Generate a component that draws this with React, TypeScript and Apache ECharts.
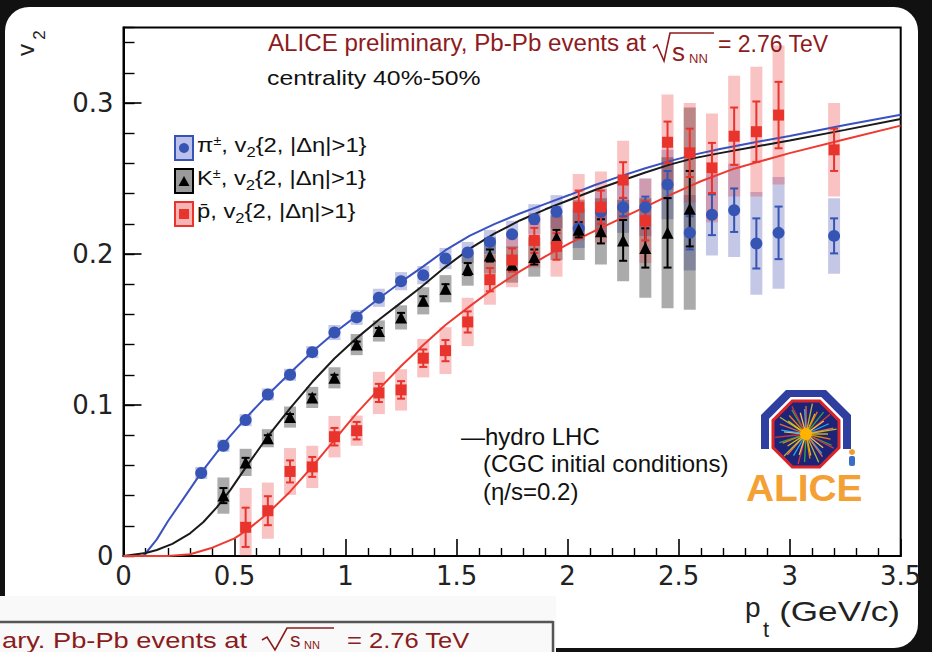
import React, { useEffect, useRef } from 'react';
import * as echarts from 'echarts';

// ---------- data ----------
const ptPi = [0.35, 0.45, 0.55, 0.65, 0.75, 0.85, 0.95, 1.05, 1.15, 1.25, 1.35, 1.45, 1.55, 1.65, 1.75, 1.85, 1.95, 2.05, 2.15, 2.25, 2.35, 2.45, 2.55, 2.65, 2.75, 2.85, 2.95, 3.2];
const v2Pi = [0.055, 0.073, 0.090, 0.107, 0.120, 0.135, 0.148, 0.158, 0.171, 0.182, 0.186, 0.197, 0.201, 0.208, 0.213, 0.223, 0.228, 0.217, 0.228, 0.231, 0.231, 0.246, 0.214, 0.226, 0.229, 0.207, 0.214, 0.212];
const statPi = [0.001, 0.001, 0.001, 0.001, 0.001, 0.001, 0.001, 0.001, 0.001, 0.001, 0.001, 0.002, 0.002, 0.002, 0.002, 0.003, 0.003, 0.004, 0.005, 0.006, 0.007, 0.009, 0.011, 0.0135, 0.0144, 0.0166, 0.0174, 0.0116];
const sysPi = [0.004, 0.004, 0.004, 0.004, 0.004, 0.004, 0.005, 0.005, 0.006, 0.006, 0.006, 0.007, 0.007, 0.008, 0.009, 0.010, 0.011, 0.013, 0.015, 0.017, 0.019, 0.023, 0.025, 0.027, 0.031, 0.034, 0.037, 0.025];

const ptK = [0.45, 0.55, 0.65, 0.75, 0.85, 0.95, 1.05, 1.15, 1.25, 1.35, 1.45, 1.55, 1.65, 1.75, 1.85, 1.95, 2.05, 2.15, 2.25, 2.35, 2.45, 2.55];
const v2K = [0.040, 0.062, 0.078, 0.092, 0.105, 0.118, 0.140, 0.149, 0.158, 0.169, 0.177, 0.190, 0.199, 0.193, 0.198, 0.211, 0.216, 0.215, 0.209, 0.204, 0.214, 0.230];
const statK = [0.005, 0.003, 0.002, 0.002, 0.002, 0.002, 0.002, 0.002, 0.003, 0.003, 0.003, 0.004, 0.004, 0.004, 0.005, 0.005, 0.005, 0.008, 0.0135, 0.013, 0.023, 0.025];
const sysK = [0.012, 0.009, 0.006, 0.007, 0.007, 0.007, 0.007, 0.007, 0.008, 0.009, 0.009, 0.011, 0.012, 0.012, 0.013, 0.015, 0.020, 0.022, 0.027, 0.033, 0.050, 0.067];

const ptP = [0.55, 0.65, 0.75, 0.85, 0.95, 1.05, 1.15, 1.25, 1.35, 1.45, 1.55, 1.65, 1.75, 1.85, 1.95, 2.05, 2.15, 2.25, 2.35, 2.45, 2.55, 2.65, 2.75, 2.85, 2.95, 3.2];
const v2P = [0.019, 0.030, 0.056, 0.059, 0.079, 0.083, 0.108, 0.110, 0.131, 0.136, 0.155, 0.183, 0.196, 0.209, 0.205, 0.231, 0.231, 0.249, 0.222, 0.274, 0.267, 0.257, 0.278, 0.281, 0.292, 0.269];
const statP = [0.013, 0.0096, 0.0073, 0.0066, 0.0058, 0.0058, 0.006, 0.0058, 0.0058, 0.007, 0.007, 0.0077, 0.0077, 0.0083, 0.0088, 0.011, 0.011, 0.0118, 0.013, 0.0137, 0.016, 0.0166, 0.019, 0.020, 0.022, 0.014];
const sysP = [0.026, 0.0186, 0.0155, 0.014, 0.0137, 0.010, 0.014, 0.0137, 0.0127, 0.0155, 0.016, 0.0166, 0.018, 0.018, 0.020, 0.022, 0.0236, 0.026, 0.028, 0.0316, 0.033, 0.036, 0.040, 0.043, 0.046, 0.031];

// hydro LHC curves (CGC initial conditions, eta/s = 0.2)
const hydroPiX = [0, 0.09, 0.15, 0.2, 0.27, 0.35, 0.45, 0.55, 0.65, 0.75, 0.85, 0.95, 1.05, 1.15, 1.25, 1.35, 1.45, 1.56, 1.67, 1.785, 1.9, 2.01, 2.12, 2.236, 2.35, 2.46, 2.57, 2.686, 2.85, 3.0, 3.25, 3.5];
const hydroPiY = [0, 0, 0.011, 0.023, 0.038, 0.0552, 0.0742, 0.0912, 0.1068, 0.1212, 0.1352, 0.1478, 0.159, 0.1705, 0.1815, 0.1918, 0.2025, 0.2122, 0.2198, 0.2268, 0.2332, 0.2392, 0.2455, 0.2514, 0.2568, 0.2615, 0.2658, 0.2695, 0.2742, 0.2782, 0.2855, 0.2922];
const hydroKX = [0, 0.1, 0.15, 0.22, 0.3, 0.36, 0.42, 0.48, 0.55, 0.65, 0.75, 0.85, 0.95, 1.05, 1.15, 1.25, 1.335, 1.45, 1.56, 1.67, 1.785, 1.9, 2.01, 2.12, 2.236, 2.35, 2.46, 2.57, 2.686, 2.85, 3.0, 3.25, 3.5];
const hydroKY = [0, 0.002, 0.004, 0.008, 0.015, 0.0225, 0.0322, 0.0435, 0.0585, 0.0792, 0.0978, 0.1152, 0.1308, 0.1443, 0.1565, 0.1678, 0.1775, 0.1915, 0.2035, 0.2135, 0.2222, 0.2296, 0.2359, 0.2422, 0.2482, 0.2540, 0.2592, 0.2635, 0.2668, 0.2712, 0.2752, 0.2822, 0.2894];
const hydroPX = [0, 0.2, 0.3, 0.4, 0.5, 0.557, 0.65, 0.75, 0.85, 0.95, 1.05, 1.15, 1.25, 1.35, 1.45, 1.56, 1.67, 1.785, 1.9, 2.01, 2.12, 2.236, 2.35, 2.46, 2.6, 2.75, 3.0, 3.25, 3.5];
const hydroPY = [0, 0, 0.0012, 0.0055, 0.0117, 0.0172, 0.0283, 0.0426, 0.0592, 0.0769, 0.0946, 0.1105, 0.1258, 0.1398, 0.1530, 0.1655, 0.1775, 0.1885, 0.1985, 0.2072, 0.2152, 0.2232, 0.2312, 0.2390, 0.2482, 0.2565, 0.2668, 0.2760, 0.2850];

const xTicks = { min: 0, max: 3.5, interval: 0.5 };
const yTicks = { min: 0, max: 0.35, interval: 0.1, minor: 0.02 };

// ---------- styles ----------
const BLUE = '#3654b4';
const BLACK = '#000000';
const RED = '#e8342c';
const TITLE_RED = '#8e1b1e';
const SANS = "'Liberation Sans', Arial, sans-serif";
const WIDE = "'DejaVu Sans', Verdana, sans-serif";
const BOX_HALF = 0.027; // half-width of systematic boxes (GeV/c)
const CAP = 4; // error-bar cap half width (px)

const zip3 = (x: number[], y: number[], e: number[]) => x.map((v, i) => [v, y[i], e[i]]);
const zip2 = (x: number[], y: number[]) => x.map((v, i) => [v, y[i]]);

function boxSeries(data: number[][], fill: string) {
  return {
    type: 'custom',
    data,
    z: 1,
    silent: true,
    encode: { x: 0, y: 1 },
    renderItem: (_p: any, api: any) => {
      const x = api.value(0), y = api.value(1), s = api.value(2);
      const p1 = api.coord([x - BOX_HALF, Math.min(yTicks.max, y + s)]);
      const p2 = api.coord([x + BOX_HALF, Math.max(0, y - s)]);
      return {
        type: 'rect',
        shape: { x: p1[0], y: p1[1], width: p2[0] - p1[0], height: p2[1] - p1[1] },
        style: { fill },
      };
    },
  };
}

function barSeries(data: number[][], color: string) {
  return {
    type: 'custom',
    data,
    z: 3,
    silent: true,
    encode: { x: 0, y: 1 },
    renderItem: (_p: any, api: any) => {
      const x = api.value(0), y = api.value(1), e = api.value(2);
      const t = api.coord([x, y + e]);
      const b = api.coord([x, Math.max(0, y - e)]);
      const st = { stroke: color, lineWidth: 2 };
      return {
        type: 'group',
        children: [
          { type: 'line', shape: { x1: t[0], y1: t[1], x2: b[0], y2: b[1] }, style: st },
          { type: 'line', shape: { x1: t[0] - CAP, y1: t[1], x2: t[0] + CAP, y2: t[1] }, style: st },
          { type: 'line', shape: { x1: b[0] - CAP, y1: b[1], x2: b[0] + CAP, y2: b[1] }, style: st },
        ],
      };
    },
  };
}

function curve(data: number[][], color: string) {
  return {
    type: 'line',
    data,
    z: 2,
    smooth: false,
    showSymbol: false,
    silent: true,
    lineStyle: { color, width: 2 },
  };
}

function marker(data: number[][], symbol: string, size: number, color: string) {
  return {
    type: 'scatter',
    data,
    z: 4,
    symbol,
    symbolSize: size,
    silent: true,
    itemStyle: { color, opacity: 1 },
  };
}

function octagon(cx: number, cy: number, a: number) {
  const R = a / Math.cos(Math.PI / 8);
  const pts: number[][] = [];
  for (let k = 0; k < 8; k++) {
    const ang = Math.PI / 8 + (k * Math.PI) / 4;
    pts.push([cx + R * Math.cos(ang), cy + R * Math.sin(ang)]);
  }
  return pts;
}

function txt(text: string, x: number, y: number, fontSize: number, fill: string, extra: any = {}) {
  const { scaleX, rotation, align, rich, fontWeight, fontFamily } = extra;
  return {
    type: 'text',
    x,
    y,
    z: 50,
    scaleX: scaleX ?? 1,
    rotation: rotation ?? 0,
    style: {
      text,
      fill,
      fontSize,
      fontFamily: fontFamily ?? SANS,
      fontWeight: fontWeight ?? 'normal',
      align: align ?? 'left',
      verticalAlign: 'middle',
      rich,
    },
  };
}

function buildLogo() {
  const cx = 806, cy = 434;
  const els: any[] = [];
  els.push({
    type: 'polygon', z: 40,
    shape: { points: [[761, 449], [761, 415], [786, 390], [826, 390], [851, 415], [851, 449]] },
    style: { fill: '#2f3f9f' },
  });
  els.push({ type: 'polygon', z: 41, shape: { points: octagon(cx, cy, 37) }, style: { fill: '#ffffff' } });
  els.push({ type: 'polygon', z: 42, shape: { points: octagon(cx, cy, 33) }, style: { fill: '#1d2478', stroke: '#d8262b', lineWidth: 3 } });
  const rayColors = ['#f7d100', '#ff8c00', '#3cb043', '#e53935', '#ffd54f', '#29b6f6', '#ff7043', '#c0ca33'];
  for (let k = 0; k < 40; k++) {
    const ang = (k * Math.PI * 2) / 40 + 0.05 * (k % 3);
    const len = 22 + (k % 4) * 3;
    els.push({
      type: 'line', z: 43,
      shape: { x1: cx, y1: cy, x2: cx + len * Math.cos(ang), y2: cy + len * Math.sin(ang) },
      style: { stroke: rayColors[k % rayColors.length], lineWidth: 1.3, opacity: 0.9 },
    });
  }
  els.push({ type: 'circle', z: 44, shape: { cx, cy, r: 6 }, style: { fill: '#ffb300' } });
  els.push({ type: 'circle', z: 44, shape: { cx: 852, cy: 452, r: 3 }, style: { fill: '#f39c2a' } });
  els.push({ type: 'rect', z: 44, shape: { x: 849, y: 456, width: 6, height: 10, r: 2 }, style: { fill: '#3b6fc4' } });
  els.push(txt('ALICE', 746, 488, 37, '#f3a035', { fontWeight: 'bold', scaleX: 1.05 }));
  return els;
}

function buildLegend() {
  const rows = [
    { yc: 145, fill: '#bcc1ea', stroke: BLUE, text: 'π{sup|±}, v{sub|2}{2, |Δη|>1}', mk: 'circle', color: BLUE },
    { yc: 178, fill: '#9a9a9a', stroke: BLACK, text: 'K{sup|±}, v{sub|2}{2, |Δη|>1}', mk: 'tri', color: BLACK },
    { yc: 211, fill: '#f7b4b4', stroke: RED, text: 'p̄, v{sub|2}{2, |Δη|>1}', mk: 'rect', color: RED },
  ];
  const els: any[] = [];
  rows.forEach((r) => {
    els.push({ type: 'rect', z: 50, shape: { x: 175, y: r.yc - 9, width: 18, height: 24 }, style: { fill: r.fill, stroke: r.stroke, lineWidth: 2 } });
    const my = r.yc + 3;
    if (r.mk === 'circle') els.push({ type: 'circle', z: 51, shape: { cx: 184, cy: my, r: 5 }, style: { fill: r.color } });
    if (r.mk === 'tri') els.push({ type: 'polygon', z: 51, shape: { points: [[184, my - 5], [178.5, my + 5], [189.5, my + 5]] }, style: { fill: r.color } });
    if (r.mk === 'rect') els.push({ type: 'rect', z: 51, shape: { x: 179, y: my - 5, width: 10, height: 10 }, style: { fill: r.color } });
    els.push(
      txt(r.text, 197, r.yc, 20, '#111', {
        scaleX: 1.19,
        rich: {
          sub: { fontSize: 14, fontFamily: SANS, fill: '#111', padding: [13, 0, 0, 0] },
          sup: { fontSize: 12, fontFamily: SANS, fill: '#111', padding: [0, 0, 9, 0] },
        },
      })
    );
  });
  return els;
}

function buildTexts() {
  const els: any[] = [];
  // title
  els.push(txt('ALICE preliminary, Pb-Pb events at', 268, 43.5, 23, TITLE_RED, { scaleX: 1.05 }));
  els.push({ type: 'polyline', z: 50, shape: { points: [[653, 48], [657, 45], [664, 61], [670, 33], [714, 33]] }, style: { stroke: TITLE_RED, lineWidth: 1.6, fill: null } });
  els.push(txt('s', 672, 52, 26, TITLE_RED));
  els.push(txt('NN', 689, 58, 13, TITLE_RED));
  els.push(txt('= 2.76 TeV', 718, 43.5, 23, TITLE_RED));
  els.push(txt('centrality 40%-50%', 267, 78, 20, '#111', { scaleX: 1.24 }));
  // hydro
  els.push(txt('—hydro LHC', 461, 436.5, 24, '#111'));
  els.push(txt('(CGC initial conditions)', 483, 463, 24, '#111'));
  els.push(txt('(η/s=0.2)', 483, 491, 24, '#111'));
  // axis titles
  els.push(txt('v', 25, 50, 24, '#222', { rotation: Math.PI / 2, align: 'center' }));
  els.push(txt('2', 39, 35, 17, '#222', { rotation: Math.PI / 2, align: 'center' }));
  els.push(txt('p', 745, 607, 28, '#222'));
  els.push(txt('t', 763, 629, 22, '#222'));
  els.push(txt('(GeV/c)', 900, 612, 27, '#222', { align: 'right', scaleX: 1.3 }));
  return els;
}

function buildBackground() {
  const els: any[] = [];
  els.push({ type: 'rect', z: -100, shape: { x: 5, y: 7, width: 913, height: 641, r: 24 }, style: { fill: '#ffffff' } });
  // lower-left fragment of a second slide
  els.push({ type: 'rect', z: 45, shape: { x: 0, y: 596, width: 556, height: 60 }, style: { fill: '#f9f9f9' } });
  els.push({ type: 'line', z: 46, shape: { x1: 0, y1: 622, x2: 553, y2: 622 }, style: { stroke: '#555', lineWidth: 2.5 } });
  els.push({ type: 'line', z: 46, shape: { x1: 553, y1: 621, x2: 553, y2: 652 }, style: { stroke: '#555', lineWidth: 2.5 } });
  els.push(txt('ary. Pb-Pb events at', 2, 640, 22, '#8a1c1c', { scaleX: 1.24 }));
  els.push({ type: 'polyline', z: 50, shape: { points: [[262, 640], [267, 637], [275, 650], [287, 628], [334, 628]] }, style: { stroke: '#8a1c1c', lineWidth: 1.6, fill: null } });
  els.push(txt('s', 290, 639.5, 21, '#8a1c1c'));
  els.push(txt('NN', 304, 645, 11, '#8a1c1c'));
  els.push(txt('= 2.76 TeV', 347, 640, 22, '#8a1c1c', { scaleX: 1.16 }));
  return els;
}

export default function App() {
  const ref = useRef<HTMLDivElement>(null);
  useEffect(() => {
    if (!ref.current) return;
    const chart = echarts.init(ref.current, null, { renderer: 'svg' });
    const axisLabelStyle = { fontFamily: WIDE, fontSize: 26, color: '#222' };
    const option: any = {
      animation: false,
      backgroundColor: '#111111',
      grid: { left: 123.5, right: 31.3, top: 27.5, bottom: 96, show: true, borderColor: '#000', borderWidth: 2, backgroundColor: 'transparent' },
      xAxis: {
        type: 'value',
        min: xTicks.min,
        max: xTicks.max,
        interval: xTicks.interval,
        axisLine: { onZero: false, lineStyle: { color: '#000', width: 2 } },
        axisTick: { inside: true, length: 17, lineStyle: { color: '#000', width: 1.6 } },
        minorTick: { show: true, splitNumber: 5, length: 8, lineStyle: { color: '#000', width: 1.4 } },
        splitLine: { show: false },
        minorSplitLine: { show: false },
        axisLabel: { ...axisLabelStyle, margin: 7, formatter: (v: number) => String(v) },
      },
      yAxis: [
        {
          type: 'value',
          min: yTicks.min,
          max: yTicks.max,
          interval: yTicks.interval,
          axisLine: { onZero: false, lineStyle: { color: '#000', width: 2 } },
          axisTick: { inside: true, length: 18, lineStyle: { color: '#000', width: 1.6 } },
          splitLine: { show: false },
          axisLabel: { ...axisLabelStyle, margin: 10, showMaxLabel: false, formatter: (v: number) => (v === 0 ? '0' : v.toFixed(1)) },
        },
        {
          type: 'value',
          position: 'left',
          min: yTicks.min,
          max: yTicks.max,
          interval: yTicks.minor,
          axisLine: { show: false },
          axisTick: { inside: true, length: 11, lineStyle: { color: '#000', width: 1.4 } },
          splitLine: { show: false },
          axisLabel: { show: false },
        },
      ],
      graphic: { elements: [...buildBackground(), ...buildTexts(), ...buildLegend(), ...buildLogo()] },
      series: [
        boxSeries(zip3(ptPi, v2Pi, sysPi), 'rgba(100,110,190,0.38)'),
        boxSeries(zip3(ptK, v2K, sysK), 'rgba(0,0,0,0.33)'),
        boxSeries(zip3(ptP, v2P, sysP), 'rgba(235,40,40,0.28)'),
        curve(zip2(hydroPiX, hydroPiY), '#3a52c0'),
        curve(zip2(hydroKX, hydroKY), '#1a1a1a'),
        curve(zip2(hydroPX, hydroPY), '#ee3a30'),
        barSeries(zip3(ptPi, v2Pi, statPi), BLUE),
        barSeries(zip3(ptK, v2K, statK), BLACK),
        barSeries(zip3(ptP, v2P, statP), RED),
        marker(zip2(ptPi, v2Pi), 'circle', 12, BLUE),
        marker(zip2(ptK, v2K), 'triangle', 12, BLACK),
        marker(zip2(ptP, v2P), 'rect', 11, RED),
      ],
    };
    chart.setOption(option);
    return () => chart.dispose();
  }, []);
  return <div ref={ref} style={{ position: 'fixed', left: 0, top: 0, width: 932, height: 652 }} />;
}
